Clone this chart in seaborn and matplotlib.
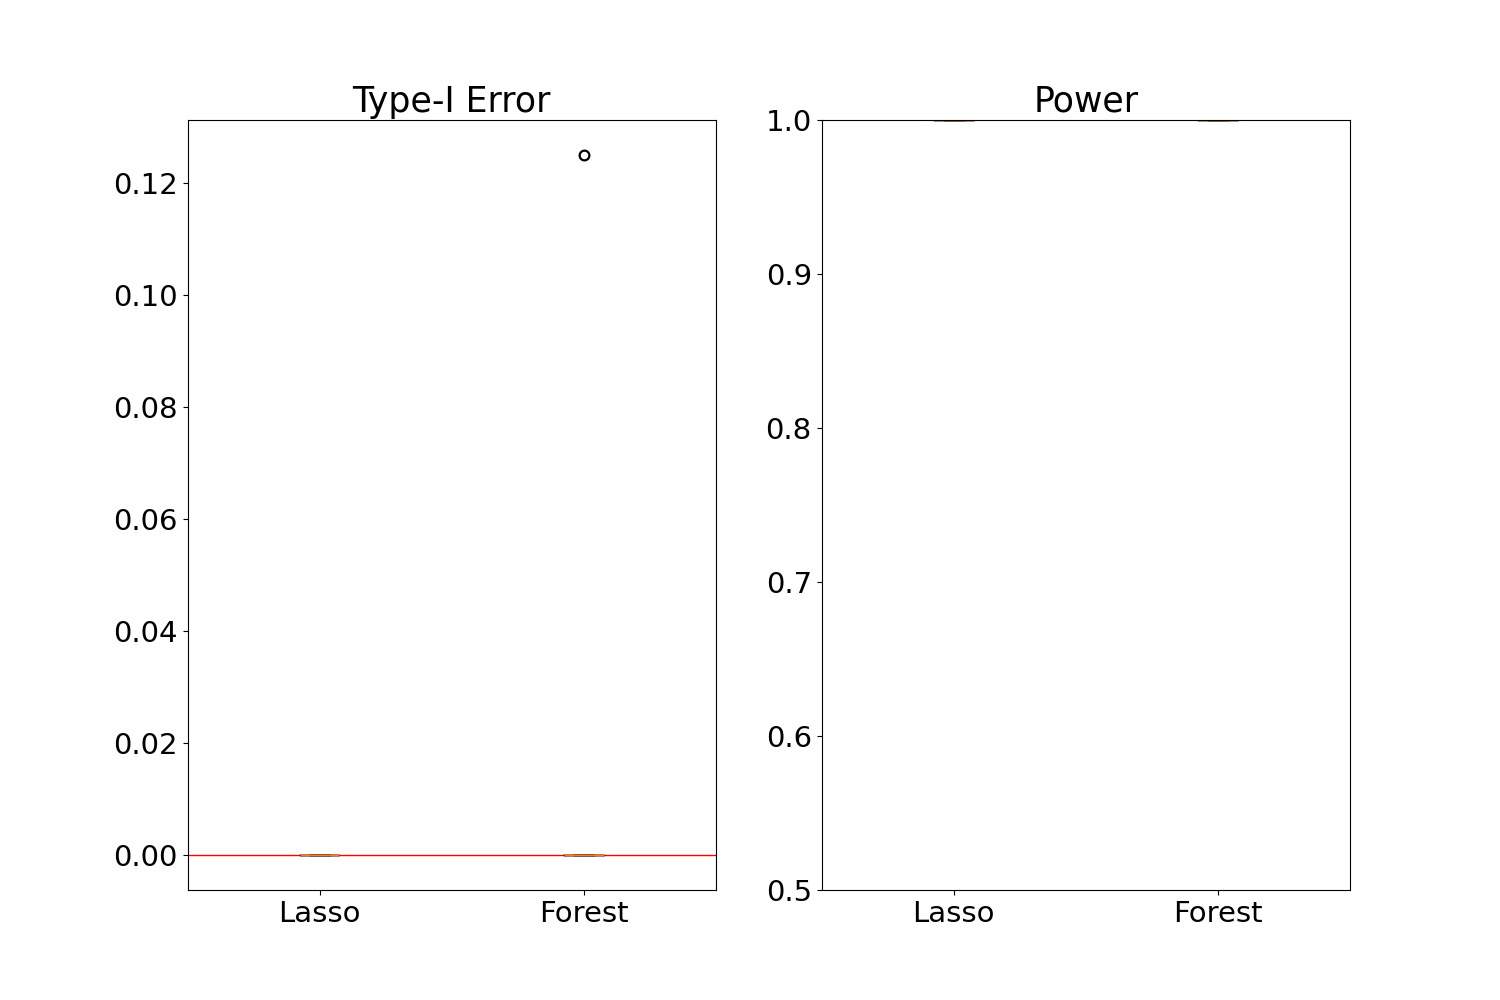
import pandas as pd
from matplotlib import pyplot as plt
import seaborn as sns

methods = ['Lasso', 'Forest']
type1_lasso = [0.0, 0.0, 0.0, 0.0, 0.0, 0.0, 0.0, 0.0, 0.0, 0.0]
type1_forest = [0.0, 0.0, 0.0, 0.0, 0.0, 0.0, 0.0, 0.0, 0.0, 0.125]
power_lasso = [1.0, 1.0, 1.0, 1.0, 1.0, 1.0, 1.0, 1.0, 1.0, 1.0]
power_forest = [1.0, 1.0, 1.0, 1.0, 1.0, 1.0, 1.0, 1.0, 1.0, 1.0]

plt.rcParams['font.size'] = 21

df_t1 = pd.DataFrame({
    'method': ['Lasso'] * len(type1_lasso) + ['Forest'] * len(type1_forest),
    'value': type1_lasso + type1_forest,
})
df_pw = pd.DataFrame({
    'method': ['Lasso'] * len(power_lasso) + ['Forest'] * len(power_forest),
    'value': power_lasso + power_forest,
})

box_kws = dict(order=methods, width=0.15, fill=False, color='black', linewidth=1,
               medianprops={'color': '#ff7f0e'},
               flierprops={'marker': 'o', 'markerfacecolor': 'none',
                           'markeredgecolor': 'black', 'markersize': 7,
                           'markeredgewidth': 1.6})

fig, axes = plt.subplots(1, 2, figsize=(15, 10))

axes[0].axhline(0, color='red', linewidth=1)
sns.boxplot(data=df_t1, x='method', y='value', ax=axes[0], **box_kws)
axes[0].set_title('Type-I Error', fontsize=25)
axes[0].set_xlabel('')
axes[0].set_ylabel('')

sns.boxplot(data=df_pw, x='method', y='value', ax=axes[1], **box_kws)
axes[1].set_ylim(0.5, 1.0)
axes[1].set_title('Power', fontsize=25)
axes[1].set_xlabel('')
axes[1].set_ylabel('')

plt.savefig('out.png', dpi=100)
